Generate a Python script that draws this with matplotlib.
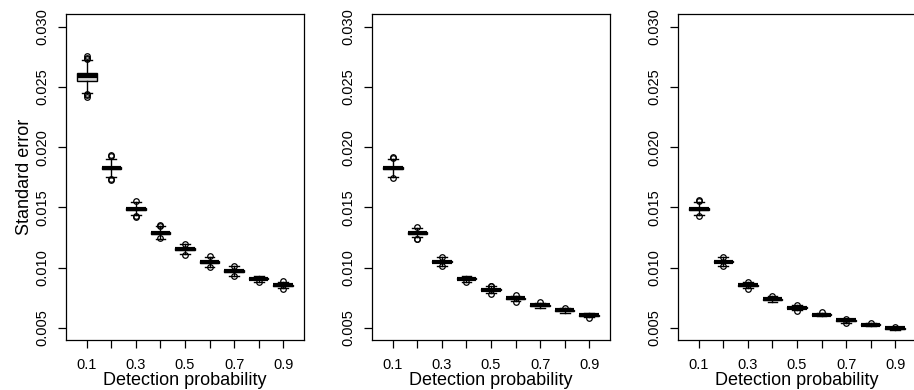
import matplotlib
matplotlib.use("Agg")
import matplotlib.pyplot as plt

plt.rcParams['font.family'] = ['Liberation Sans', 'DejaVu Sans']

# detection probabilities (x categories)
probs = [0.1, 0.2, 0.3, 0.4, 0.5, 0.6, 0.7, 0.8, 0.9]
tick_labels = ['0.1', '', '0.3', '', '0.5', '', '0.7', '', '0.9']

# panel 1
med_1 = [0.02588, 0.01824, 0.01488, 0.01289, 0.01156, 0.01048, 0.00973, 0.00910, 0.00855]
q1_1 = [0.02549, 0.01816, 0.01481, 0.01282, 0.01150, 0.01042, 0.00967, 0.00905, 0.00850]
q3_1 = [0.02618, 0.01832, 0.01495, 0.01296, 0.01162, 0.01054, 0.00979, 0.00915, 0.00860]
lo_1 = [0.02449, 0.01754, 0.01436, 0.01239, 0.01110, 0.01007, 0.00932, 0.00882, 0.00830]
hi_1 = [0.02723, 0.01898, 0.01547, 0.01350, 0.01193, 0.01087, 0.01010, 0.00935, 0.00882]
out_1 = [[0.02757, 0.02743, 0.02730, 0.02419, 0.02430, 0.02438],
         [0.01934, 0.01925, 0.01727, 0.01735],
         [0.01553, 0.01422, 0.01428],
         [0.01345, 0.01352, 0.01249],
         [0.01198, 0.01104],
         [0.01093, 0.01003],
         [0.01016, 0.00927],
         [0.00880],
         [0.00886, 0.00826]]

# panel 2
med_2 = [0.01824, 0.01289, 0.01051, 0.00910, 0.00819, 0.00747, 0.00689, 0.00645, 0.00606]
q1_2 = [0.01816, 0.01282, 0.01045, 0.00905, 0.00814, 0.00742, 0.00685, 0.00641, 0.00602]
q3_2 = [0.01832, 0.01296, 0.01057, 0.00915, 0.00824, 0.00752, 0.00693, 0.00649, 0.00610]
lo_2 = [0.01754, 0.01251, 0.01015, 0.00882, 0.00786, 0.00722, 0.00669, 0.00627, 0.00589]
hi_2 = [0.01898, 0.01326, 0.01085, 0.00933, 0.00846, 0.00767, 0.00711, 0.00664, 0.00622]
out_2 = [[0.01920, 0.01912, 0.01741],
         [0.01340, 0.01234, 0.01238],
         [0.01092, 0.01010],
         [0.00878],
         [0.00852, 0.00845, 0.00780],
         [0.00772, 0.00718],
         [0.00716],
         [0.00667],
         [0.00586]]

# panel 3
med_3 = [0.01486, 0.01051, 0.00855, 0.00738, 0.00667, 0.00611, 0.00564, 0.00528, 0.00496]
q1_3 = [0.01479, 0.01045, 0.00850, 0.00733, 0.00662, 0.00607, 0.00560, 0.00524, 0.00492]
q3_3 = [0.01493, 0.01057, 0.00860, 0.00743, 0.00672, 0.00615, 0.00568, 0.00532, 0.00500]
lo_3 = [0.01436, 0.01015, 0.00830, 0.00716, 0.00645, 0.00598, 0.00545, 0.00514, 0.00482]
hi_3 = [0.01547, 0.01085, 0.00880, 0.00763, 0.00690, 0.00628, 0.00578, 0.00542, 0.00510]
out_3 = [[0.01560, 0.01556, 0.01430],
         [0.01090, 0.01010],
         [0.00885, 0.00826],
         [0.00766],
         [0.00694, 0.00642],
         [0.00630],
         [0.00576, 0.00543],
         [0.00543],
         [0.00508]]

panels = [
    (med_1, q1_1, q3_1, lo_1, hi_1, out_1),
    (med_2, q1_2, q3_2, lo_2, hi_2, out_2),
    (med_3, q1_3, q3_3, lo_3, hi_3, out_3),
]

W, H = 914, 390
fig = plt.figure(figsize=(W / 100, H / 100), dpi=100)

lefts = [66, 372, 678]
for k, (med, q1, q3, lo, hi, out) in enumerate(panels):
    ax = fig.add_axes([lefts[k] / W, 1 - 340 / H, 238 / W, 326 / H])
    stats = []
    for i in range(len(probs)):
        stats.append(dict(med=med[i], q1=q1[i], q3=q3[i],
                          whislo=lo[i], whishi=hi[i], fliers=out[i]))
    pos = list(range(1, len(probs) + 1))
    ax.bxp(stats, positions=pos, widths=0.8, patch_artist=True,
           boxprops=dict(facecolor='#d3d3d3', edgecolor='black', linewidth=1),
           medianprops=dict(color='black', linewidth=3.0, solid_capstyle='butt'),
           whiskerprops=dict(color='black', linewidth=1),
           capprops=dict(color='black', linewidth=1),
           capwidths=0.4,
           flierprops=dict(marker='o', markersize=4.0, markerfacecolor='none',
                           markeredgecolor='black', markeredgewidth=0.9))
    ax.set_xlim(0.15, 9.85)
    ax.set_ylim(0.0040, 0.03105)
    ax.set_yticks([0.005, 0.010, 0.015, 0.020, 0.025, 0.030])
    ax.set_yticklabels(['0.005', '0.010', '0.015', '0.020', '0.025', '0.030'],
                       rotation=90, va='center', fontsize=10.5)
    ax.set_xticks(pos)
    ax.set_xticklabels(tick_labels, fontsize=10.5)
    ax.tick_params(direction='out', length=6, width=0.9, color='black')
    ax.tick_params(axis='x', pad=7)
    ax.tick_params(axis='y', pad=6)
    for s in ax.spines.values():
        s.set_linewidth(0.9)
    ax.set_xlabel('Detection probability', fontsize=13, labelpad=0)
    if k == 0:
        ax.set_ylabel('Standard error', fontsize=13, labelpad=2)

fig.savefig('out.png', dpi=100)
